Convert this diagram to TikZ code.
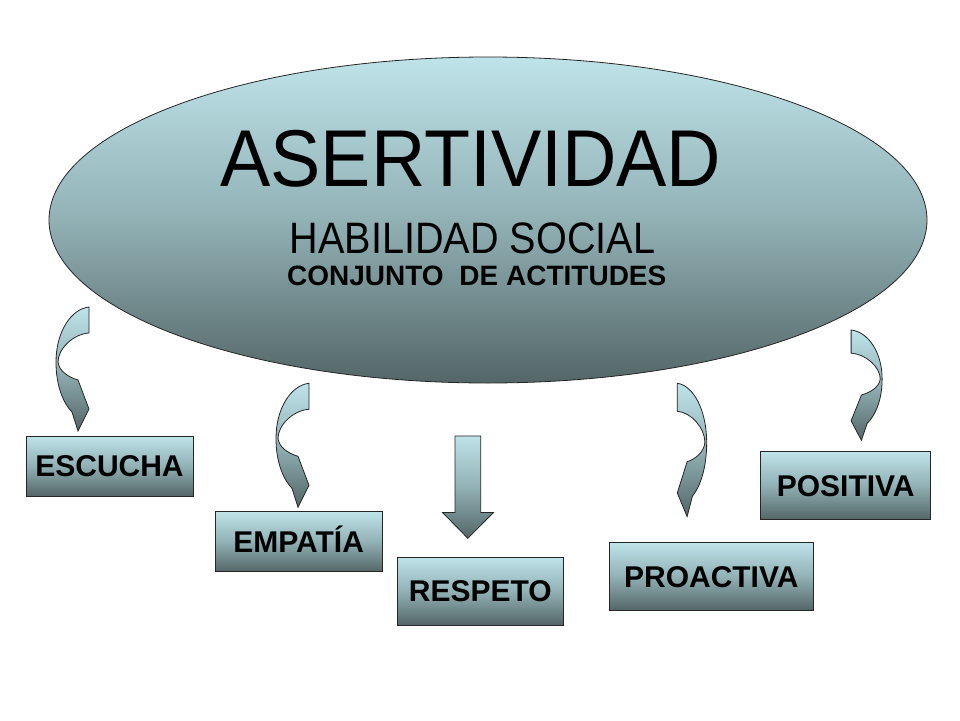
\documentclass[tikz,border=0pt]{standalone}
\usepackage{fontspec}
\setmainfont{Liberation Sans}
\usetikzlibrary{shapes.geometric}
\definecolor{lightc}{RGB}{190,227,233}
\definecolor{midc}{RGB}{145,177,181}
\definecolor{darkc}{RGB}{84,102,103}
\tikzset{
  grad/.style={top color=lightc, bottom color=darkc, middle color=midc, draw=black!85, line width=0.8pt},
  labelbox/.style={grad, rectangle, inner sep=0pt, text height=21.5pt, text depth=0pt, font=\fontsize{30}{34}\selectfont\bfseries},
  titletext/.style={anchor=base, inner sep=0pt},
  carrow/.pic={\path[grad, line join=miter] (0,0) .. controls (-18,2) and (-33,25) .. (-33,55)
      .. controls (-33,80) and (-25,97) .. (-17,105) -- (-11,124) -- (0,102) -- (-11,73)
      .. controls (-21,70) and (-30,64) .. (-31,55)
      .. controls (-31,42) and (-16,27) .. (0,26) -- cycle;}
}
\begin{document}
\begin{tikzpicture}[x=1pt,y=-1pt]
\fill[white] (0,0) rectangle (960,720);
\useasboundingbox (0,0) rectangle (960,720);

% main ellipse
\node[grad, ellipse, minimum width=878pt, minimum height=326pt, inner sep=0pt] (main) at (488,220) {};
\node[titletext, font=\fontsize{80.6}{90}\selectfont] (t1) at (470.8,186) {\scalebox{0.935}[1]{ASERTIVIDAD}};
\node[titletext, font=\fontsize{44}{50}\selectfont] (t2) at (472.5,253.3) {\scalebox{0.9}[1]{HABILIDAD SOCIAL}};
\node[titletext, font=\fontsize{28}{32}\selectfont\bfseries] (t3) at (476.7,285) {CONJUNTO\hspace{8pt} DE ACTITUDES};

% curved arrows
\pic at (89,307) {carrow};
\pic at (309,383.3) {carrow};
\pic[xscale=-0.89, yscale=1.075] at (677.3,383.3) {carrow};
\pic[xscale=-0.94, yscale=0.89] at (851.1,330) {carrow};

% straight arrow
\path[grad, line join=miter] (455,436) -- (480.7,436) -- (480.7,512.5) -- (493.5,512.5)
  -- (467.8,538.3) -- (442.5,512.5) -- (455,512.5) -- cycle;

% boxes
\node[labelbox, minimum width=167pt, minimum height=60pt] (escucha) at (109.5,466) {ESCUCHA};
\node[labelbox, minimum width=167.3pt, minimum height=60pt] (empatia) at (298.7,541.7) {EMPATÍA};
\node[labelbox, minimum width=166.2pt, minimum height=67.5pt] (respeto) at (480.4,591.2) {RESPETO};
\node[labelbox, minimum width=204pt, minimum height=67.6pt] (proactiva) at (711.3,576.5) {PROACTIVA};
\node[labelbox, minimum width=170pt, minimum height=67.6pt] (positiva) at (845.7,485.5) {POSITIVA};
\end{tikzpicture}
\end{document}
